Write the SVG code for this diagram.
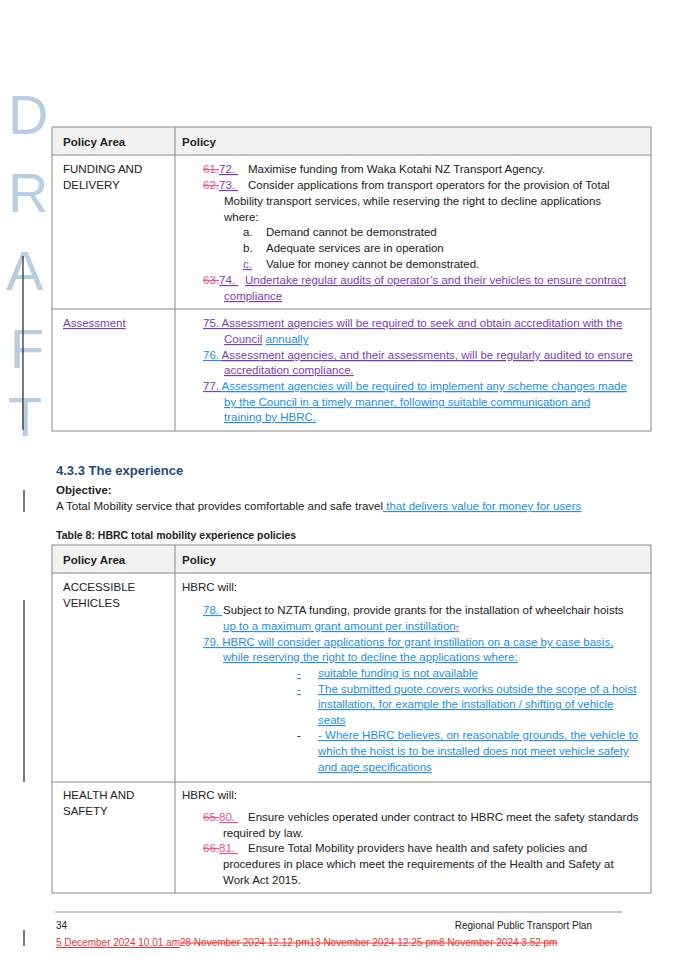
<svg xmlns="http://www.w3.org/2000/svg" width="675" height="962" viewBox="0 0 675 962">
<style>
text{font-family:"Liberation Sans",Arial,sans-serif;font-size:11.5px;fill:#222}
.b{font-weight:bold}
.dr{font-size:56px;fill:#b9cde3;font-family:"Liberation Sans",Arial,sans-serif}
.pk{fill:#e0559c;text-decoration:line-through}
.pu{fill:#7b3fb0;text-decoration:underline}
.bl{fill:#2a8ee0;text-decoration:underline}
.u{text-decoration:underline}
.tb{fill:none;stroke:#8a8a8a;stroke-width:1}
.hd{fill:#f2f2f2}
.cb{stroke:#333;stroke-width:1.3}
</style>
<g id="draft">
<text class="dr" x="8" y="134">D</text>
<text class="dr" x="8" y="212">R</text>
<text class="dr" x="6" y="290">A</text>
<text class="dr" x="10" y="368">F</text>
<text class="dr" x="8" y="436">T</text>
</g>
<g id="changebars">
<line class="cb" x1="23" y1="256" x2="23" y2="430"/>
<line class="cb" x1="24" y1="490" x2="24" y2="512"/>
<line class="cb" x1="24" y1="600" x2="24" y2="782"/>
<line class="cb" x1="24" y1="930" x2="24" y2="946"/>
</g>
<g id="table1">
<rect class="hd" x="52" y="127" width="599" height="28"/>
<rect class="tb" x="52" y="127" width="599" height="304"/>
<line class="tb" x1="52" y1="155" x2="651" y2="155"/>
<line class="tb" x1="52" y1="309" x2="651" y2="309"/>
<line class="tb" x1="175" y1="127" x2="175" y2="431"/>
<text class="b" x="63" y="146">Policy Area</text>
<text class="b" x="182" y="146">Policy</text>
<text x="63" y="173">FUNDING AND</text>
<text x="63" y="189">DELIVERY</text>
<text x="203" y="173"><tspan class="pk">61.</tspan><tspan class="pu">72.    </tspan><tspan x="248">Maximise funding from Waka Kotahi NZ Transport Agency.</tspan></text>
<text x="203" y="189"><tspan class="pk">62.</tspan><tspan class="pu">73.    </tspan><tspan x="248">Consider applications from transport operators for the provision of Total</tspan></text>
<text x="224" y="205">Mobility transport services, while reserving the right to decline applications</text>
<text x="224" y="221">where:</text>
<text x="243" y="236">a.</text><text x="266" y="236">Demand cannot be demonstrated</text>
<text x="243" y="252">b.</text><text x="266" y="252">Adequate services are in operation</text>
<text x="243" y="268" class="pu">c.    </text><text x="266" y="268">Value for money cannot be demonstrated.</text>
<text x="203" y="284"><tspan class="pk">63.</tspan><tspan class="pu">74.    </tspan><tspan x="245" class="pu">Undertake regular audits of operator’s and their vehicles to ensure contract</tspan></text>
<text x="224" y="300" class="pu">compliance</text>
<text x="63" y="327" class="pu">Assessment</text>
<text x="203" y="327" class="pu">75. Assessment agencies will be required to seek and obtain accreditation with the</text>
<text x="224" y="343"><tspan class="pu">Council</tspan> <tspan class="bl">annually</tspan></text>
<text x="203" y="359" class="bl">76. <tspan class="pu">Assessment agencies, and their assessments, will be regularly audited to ensure</tspan></text>
<text x="224" y="374" class="pu">accreditation compliance.</text>
<text x="203" y="390" class="pu">77. <tspan class="bl">Assessment agencies will be required to implement any scheme changes made</tspan></text>
<text x="224" y="406" class="bl">by the Council in a timely manner, following suitable communication and</text>
<text x="224" y="421" class="bl">training by HBRC.</text>
</g>
<g id="heading">
<text class="b" x="56" y="475" style="font-size:13px;fill:#1f4d78">4.3.3   The experience</text>
<text class="b" x="56" y="494">Objective:</text>
<text x="56" y="510">A Total Mobility service that provides comfortable and safe travel<tspan class="bl"> that delivers value for money for users</tspan></text>
<text class="b" x="56" y="539" style="font-size:10.5px">Table 8: HBRC total mobility experience policies</text>
</g>
<g id="table2">
<rect class="hd" x="52" y="545" width="599" height="28"/>
<rect class="tb" x="52" y="545" width="599" height="348"/>
<line class="tb" x1="52" y1="573" x2="651" y2="573"/>
<line class="tb" x1="52" y1="782" x2="651" y2="782"/>
<line class="tb" x1="175" y1="545" x2="175" y2="893"/>
<text class="b" x="63" y="564">Policy Area</text>
<text class="b" x="182" y="564">Policy</text>
<text x="63" y="591">ACCESSIBLE</text>
<text x="63" y="607">VEHICLES</text>
<text x="182" y="591">HBRC will:</text>
<text x="203" y="614"><tspan class="bl">78. </tspan><tspan x="223">Subject to NZTA funding, provide grants for the installation of wheelchair hoists</tspan></text>
<text x="223" y="630" class="bl">up to a maximum grant amount per instillation<tspan fill="#e0559c" class="pk">.</tspan></text>
<text x="203" y="646" class="bl">79. HBRC will consider applications for grant instillation on a case by case basis,</text>
<text x="223" y="661" class="bl">while reserving the right to decline the applications where:</text>
<text x="297" y="677" class="bl">-      </text><text x="318" y="677" class="bl">suitable funding is not available</text>
<text x="297" y="693" class="bl">-      </text><text x="318" y="693" class="bl">The submitted quote covers works outside the scope of a hoist</text>
<text x="318" y="708" class="bl">installation, for example the installation / shifting of vehicle</text>
<text x="318" y="724" class="bl">seats</text>
<text x="297" y="739">-</text><text x="318" y="739" class="bl"> - Where HBRC believes, on reasonable grounds, the vehicle to</text>
<text x="318" y="755" class="bl">which the hoist is to be installed does not meet vehicle safety</text>
<text x="318" y="771" class="bl">and age specifications</text>
<text x="63" y="799">HEALTH AND</text>
<text x="63" y="815">SAFETY</text>
<text x="182" y="799">HBRC will:</text>
<text x="203" y="821"><tspan class="pk">65.</tspan><tspan class="pu" style="fill:#e0559c">80.    </tspan><tspan x="248">Ensure vehicles operated under contract to HBRC meet the safety standards</tspan></text>
<text x="223" y="837">required by law.</text>
<text x="203" y="852"><tspan class="pk">66.</tspan><tspan class="pu" style="fill:#e0559c">81.    </tspan><tspan x="248">Ensure Total Mobility providers have health and safety policies and</tspan></text>
<text x="223" y="868">procedures in place which meet the requirements of the Health and Safety at</text>
<text x="223" y="884">Work Act 2015.</text>
</g>
<g id="footer">
<line x1="55" y1="912" x2="622" y2="912" stroke="#999" stroke-width="1"/>
<text x="56" y="929" style="font-size:10px">34</text>
<text x="592" y="929" text-anchor="end" style="font-size:10px">Regional Public Transport Plan</text>
<text x="56" y="946" style="font-size:10px;fill:#e03a3a"><tspan class="u">5 December 2024 10.01 am</tspan><tspan text-decoration="line-through">28 November 2024 12.12 pm13 November 2024 12.25 pm8 November 2024 3.52 pm</tspan></text>
</g>
</svg>
